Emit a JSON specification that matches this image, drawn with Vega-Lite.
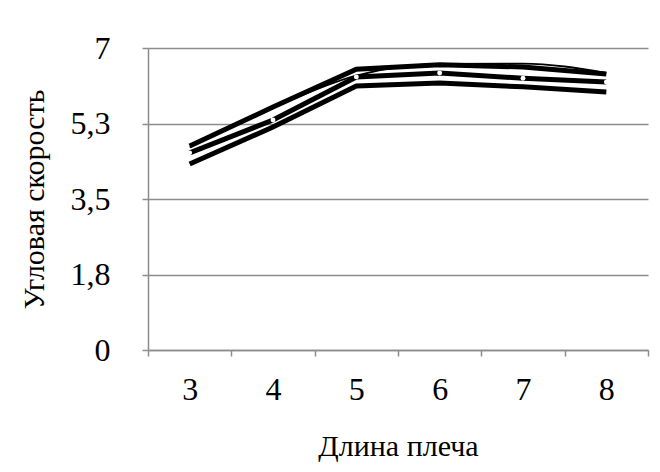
{
  "$schema": "https://vega.github.io/schema/vega-lite/v6.json",
  "autosize": "none",
  "width": 500,
  "height": 302,
  "padding": {"left": 148, "top": 48, "right": 12, "bottom": 122},
  "background": "white",
  "config": {
    "font": "Liberation Serif",
    "view": {"stroke": null},
    "axis": {
      "labelFont": "Liberation Serif",
      "titleFont": "Liberation Serif",
      "labelColor": "black",
      "titleColor": "black",
      "labelFontSize": 32,
      "titleFontSize": 30,
      "titleFontWeight": "normal",
      "domainColor": "#8c8c8c",
      "tickColor": "#8c8c8c",
      "gridColor": "#8c8c8c",
      "domainWidth": 1.5,
      "tickWidth": 1.5,
      "gridWidth": 1.5
    }
  },
  "data": {
    "values": [
      {"x": "3", "s": "top", "y": 4.73},
      {"x": "4", "s": "top", "y": 5.63},
      {"x": "5", "s": "top", "y": 6.51},
      {"x": "6", "s": "top", "y": 6.61},
      {"x": "7", "s": "top", "y": 6.56},
      {"x": "8", "s": "top", "y": 6.40},
      {"x": "3", "s": "mid", "y": 4.57},
      {"x": "4", "s": "mid", "y": 5.33},
      {"x": "5", "s": "mid", "y": 6.33},
      {"x": "6", "s": "mid", "y": 6.42},
      {"x": "7", "s": "mid", "y": 6.30},
      {"x": "8", "s": "mid", "y": 6.21},
      {"x": "3", "s": "bot", "y": 4.31},
      {"x": "4", "s": "bot", "y": 5.17},
      {"x": "5", "s": "bot", "y": 6.12},
      {"x": "6", "s": "bot", "y": 6.19},
      {"x": "7", "s": "bot", "y": 6.10},
      {"x": "8", "s": "bot", "y": 5.98},
      {"x": "3", "s": "trend", "y": 4.70},
      {"x": "4", "s": "trend", "y": 5.62},
      {"x": "5", "s": "trend", "y": 6.36},
      {"x": "6", "s": "trend", "y": 6.63},
      {"x": "7", "s": "trend", "y": 6.64},
      {"x": "8", "s": "trend", "y": 6.42}
    ]
  },
  "encoding": {
    "x": {
      "field": "x",
      "type": "ordinal",
      "scale": {"paddingInner": 0, "paddingOuter": 0},
      "axis": {
        "title": "Длина плеча",
        "labelAngle": 0,
        "tickBand": "extent",
        "tickSize": 6,
        "labelPadding": 18,
        "titlePadding": 26,
        "grid": false
      }
    },
    "y": {
      "field": "y",
      "type": "quantitative",
      "scale": {"domain": [0, 7], "nice": false},
      "axis": {
        "title": "Угловая скорость",
        "values": [0, 1.75, 3.5, 5.25, 7],
        "labelExpr": "datum.value == 0 ? '0' : datum.value == 7 ? '7' : replace(format(datum.value, '.1f'), '.', ',')",
        "tickSize": 6,
        "labelPadding": 32,
        "titlePadding": 21,
        "grid": true
      }
    }
  },
  "layer": [
    {
      "transform": [{"filter": "datum.s != 'trend'"}],
      "mark": {"type": "line", "strokeWidth": 5, "color": "black", "strokeCap": "butt"},
      "encoding": {"detail": {"field": "s"}}
    },
    {
      "transform": [{"filter": "datum.s == 'trend'"}],
      "mark": {"type": "line", "strokeWidth": 1.8, "color": "black", "interpolate": "monotone"},
      "encoding": {}
    },
    {
      "transform": [{"filter": "datum.s == 'mid'"}],
      "mark": {"type": "point", "filled": true, "color": "white", "size": 24, "opacity": 1},
      "encoding": {}
    }
  ]
}
